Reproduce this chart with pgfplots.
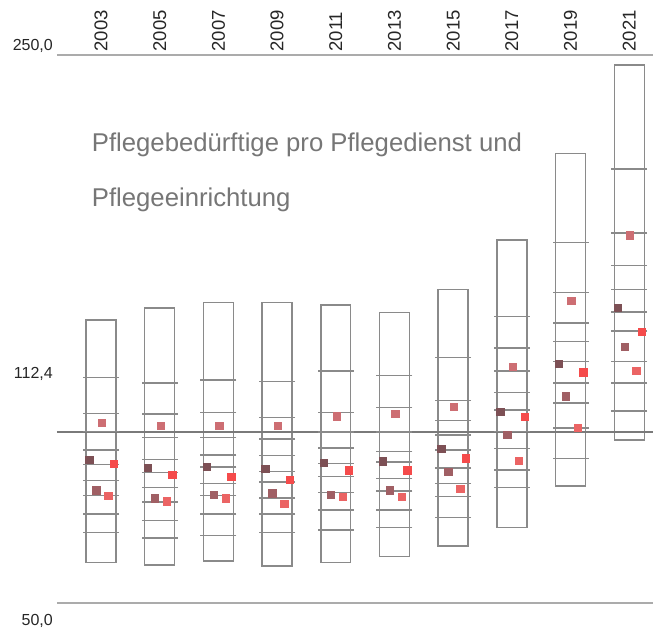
\documentclass[border=0pt]{standalone}
\usepackage{pgfplots}
\pgfplotsset{compat=1.18}
\usepackage{fontspec}
\setmainfont{Liberation Sans}
\definecolor{boxgray}{HTML}{8A8A8A}
\definecolor{midgray}{HTML}{7A7A7A}
\definecolor{litegray}{HTML}{ABABAB}
\definecolor{titlegray}{HTML}{767676}
\definecolor{labelblack}{HTML}{262626}
\definecolor{colA}{HTML}{CD6E73}
\definecolor{colB}{HTML}{7D5055}
\definecolor{colC}{HTML}{F54B4B}
\definecolor{colD}{HTML}{A05F64}
\definecolor{colE}{HTML}{EB6464}
\begin{document}
\begin{tikzpicture}
\begin{axis}[
  at={(0pt,0pt)}, anchor=south west,
  scale only axis, width=596pt, height=548pt,
  xmin=-0.75, xmax=9.405, ymin=50, ymax=250,
  hide axis, clip=false,
]
% reference lines
\addplot[draw=litegray, line width=1.4pt] coordinates {(-0.75,250) (9.405,250)};
\addplot[draw=litegray, line width=1.4pt] coordinates {(-0.75,50) (9.405,50)};
% boxes
\addplot[draw=boxgray, line width=1.4pt] coordinates {(-0.255,64.7) (0.255,64.7) (0.255,153.3) (-0.255,153.3)} --cycle;
\addplot[draw=boxgray, line width=1.4pt] coordinates {(0.745,63.9) (1.255,63.9) (1.255,157.6) (0.745,157.6)} --cycle;
\addplot[draw=boxgray, line width=1.4pt] coordinates {(1.745,65.3) (2.255,65.3) (2.255,159.6) (1.745,159.6)} --cycle;
\addplot[draw=boxgray, line width=1.4pt] coordinates {(2.745,63.5) (3.255,63.5) (3.255,159.6) (2.745,159.6)} --cycle;
\addplot[draw=boxgray, line width=1.4pt] coordinates {(3.745,64.7) (4.255,64.7) (4.255,158.8) (3.745,158.8)} --cycle;
\addplot[draw=boxgray, line width=1.4pt] coordinates {(4.745,66.9) (5.255,66.9) (5.255,156.1) (4.745,156.1)} --cycle;
\addplot[draw=boxgray, line width=1.4pt] coordinates {(5.745,70.8) (6.255,70.8) (6.255,164.5) (5.745,164.5)} --cycle;
\addplot[draw=boxgray, line width=1.4pt] coordinates {(6.745,77.6) (7.255,77.6) (7.255,182.5) (6.745,182.5)} --cycle;
\addplot[draw=boxgray, line width=1.4pt] coordinates {(7.745,92.7) (8.255,92.7) (8.255,214.1) (7.745,214.1)} --cycle;
\addplot[draw=boxgray, line width=1.4pt] coordinates {(8.745,109.5) (9.255,109.5) (9.255,246.4) (8.745,246.4)} --cycle;
% dashes
\addplot[only marks, mark=-, mark size=18pt, color=boxgray, mark options={line width=1.4pt}] table {
x y
0 132.2
0 119.1
0 112.5
0 105.8
0 100.6
0 94.6
0 89.2
0 82.5
0 75.7
1 130.3
1 119.0
1 110.3
1 102.4
1 97.6
1 92.2
1 86.9
1 80.0
1 73.7
2 131.4
2 119.5
2 110.3
2 104.0
2 99.6
2 93.7
2 89.2
2 82.5
2 74.7
3 130.8
3 117.6
3 109.9
3 103.8
3 98.1
3 94.2
3 88.3
3 82.5
3 75.7
4 134.7
4 119.5
4 112.4
4 106.5
4 101.0
4 96.1
4 90.4
4 83.9
4 76.6
5 133.1
5 121.4
5 112.4
5 105.4
5 101.5
5 95.5
5 90.9
5 83.9
5 77.6
6 139.5
6 123.8
6 116.5
6 111.3
6 105.8
6 99.2
6 93.7
6 88.8
6 81.3
7 154.5
7 143.0
7 134.7
7 126.8
7 120.4
7 112.5
7 106.3
7 98.5
7 92.2
8 181.5
8 163.4
8 152.2
8 145.4
8 138.1
8 130.3
8 123.0
8 113.8
8 102.8
9 208.4
9 185.0
9 173.2
9 164.4
9 156.2
9 149.3
9 138.1
9 130.3
9 120.1
};
% middle line
\addplot[draw=midgray, line width=1.4pt] coordinates {(-0.75,112.4) (9.405,112.4)};
% squares
\addplot[only marks, mark=square*, mark size=3.7pt, color=colA, mark options={draw=colA, fill=colA, line width=0pt}] coordinates {
(0.017,115.8) (1.017,114.5) (2.017,114.5) (3.017,114.5) (4.017,118.0) (5.017,118.9) (6.017,121.6) (7.017,136.2) (8.017,160.2) (9.017,184.1)};
\addplot[only marks, mark=square*, mark size=3.7pt, color=colB, mark options={draw=colB, fill=colB, line width=0pt}] coordinates {
(-0.196,102.2) (0.804,99.2) (1.804,99.7) (2.804,98.8) (3.804,101.2) (4.804,101.6) (5.804,106.2) (6.804,119.8) (7.804,137.3) (8.804,157.7)};
\addplot[only marks, mark=square*, mark size=3.7pt, color=colC, mark options={draw=colC, fill=colC, line width=0pt}] coordinates {
(0.221,100.7) (1.221,96.8) (2.221,95.9) (3.221,94.9) (4.221,98.4) (5.221,98.4) (6.221,102.7) (7.221,117.8) (8.221,134.1) (9.221,149.0)};
\addplot[only marks, mark=square*, mark size=3.7pt, color=colD, mark options={draw=colD, fill=colD, line width=0pt}] coordinates {
(-0.077,91.0) (0.923,88.1) (1.923,89.5) (2.923,90.0) (3.923,89.5) (4.923,91.0) (5.923,97.8) (6.923,111.4) (7.923,125.3) (8.923,143.5)};
\addplot[only marks, mark=square*, mark size=3.7pt, color=colE, mark options={draw=colE, fill=colE, line width=0pt}] coordinates {
(0.125,89.1) (1.125,87.1) (2.125,88.1) (3.125,86.1) (4.125,88.6) (5.125,88.6) (6.125,91.5) (7.125,101.8) (8.125,113.8) (9.125,134.6)};
\end{axis}
% y labels
\node[anchor=east, inner sep=0pt, text=labelblack, font=\fontsize{16}{18}\selectfont] at (-4pt,557.5pt) {250,0};
\node[anchor=east, inner sep=0pt, text=labelblack, font=\fontsize{16}{18}\selectfont] at (-4pt,229pt) {112,4};
\node[anchor=east, inner sep=0pt, text=labelblack, font=\fontsize{16}{18}\selectfont] at (-4pt,-17.5pt) {50,0};
% year labels
\foreach \yr [count=\i from 0] in {2003,2005,2007,2009,2011,2013,2015,2017,2019,2021}
  \node[anchor=west, rotate=90, inner sep=0pt, text=labelblack, font=\fontsize{18.5}{20}\selectfont] at ({44pt+58.69pt*\i},551.3pt) {\yr};
% title
\node[anchor=base west, inner sep=0pt, text=titlegray, font=\fontsize{25.7}{30}\selectfont] at (34.7pt,451pt) {Pflegebedürftige pro Pflegedienst und};
\node[anchor=base west, inner sep=0pt, text=titlegray, font=\fontsize{25.7}{30}\selectfont] at (34.7pt,396pt) {Pflegeeinrichtung};
\pgfresetboundingbox
\path (-57pt,-31pt) rectangle (596pt,603pt);
\end{tikzpicture}
\end{document}
